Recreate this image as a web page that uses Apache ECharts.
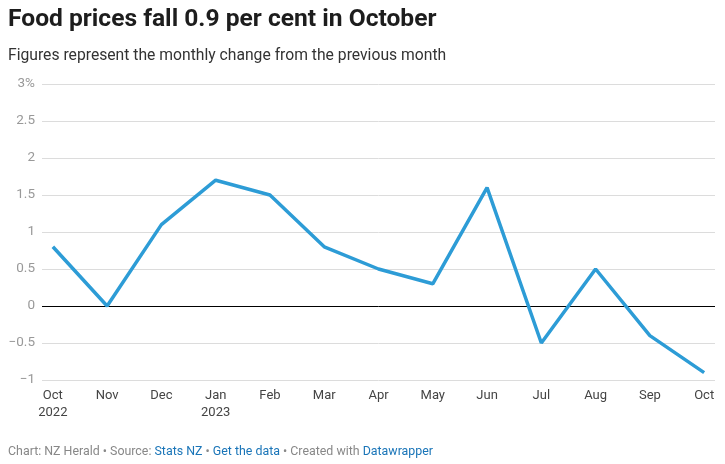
<!DOCTYPE html>
<html>
<head>
<meta charset="utf-8">
<script src="https://cdn.jsdelivr.net/npm/echarts@6/dist/echarts.min.js"></script>
<style>
html,body{margin:0;padding:0;background:#fff;}
#c{width:725px;height:464px;}
</style>
</head>
<body>
<div id="c"></div>
<script>
var categories = ['Oct\n2022','Nov','Dec','Jan\n2023','Feb','Mar','Apr','May','Jun','Jul','Aug','Sep','Oct'];
var values = [0.8, 0, 1.1, 1.7, 1.5, 0.8, 0.5, 0.3, 1.6, -0.5, 0.5, -0.4, -0.9];
var yTicks = [-1, -0.5, 0, 0.5, 1, 1.5, 2, 2.5, 3];

var chart = echarts.init(document.getElementById('c'), null, {renderer:'canvas'});
var font = 'Roboto, "Liberation Sans", sans-serif';
var option = {
  animation: false,
  backgroundColor: '#fff',
  title: [
    {text: 'Food prices fall 0.9 per cent in October', left: 8, top: 7, padding: 0,
     textStyle: {fontFamily: font, fontSize: 24.6, fontWeight: 'bold', color: '#1d1d1d'}},
    {text: 'Figures represent the monthly change from the previous month', left: 8, top: 48, padding: 0,
     textStyle: {fontFamily: font, fontSize: 15.7, fontWeight: 'normal', color: '#333'}}
  ],
  graphic: [{
    type: 'text', left: 8, top: 446,
    style: {
      text: '{g|Chart: NZ Herald • Source: }{b|Stats NZ}{g| • }{b|Get the data}{g| • Created with }{b|Datawrapper}',
      rich: {
        g: {fontFamily: font, fontSize: 12.4, fill: '#888'},
        b: {fontFamily: font, fontSize: 12.4, fill: '#1a75b8'}
      }
    }
  }],
  grid: {left: 42, right: 10, top: 84, bottom: 84, containLabel: false},
  xAxis: {
    type: 'value', min: -0.2, max: 12.2,
    axisLine: {show: false}, axisTick: {show: false}, splitLine: {show: false},
    axisLabel: {
      customValues: categories.map(function(_, i){return i;}),
      formatter: function(v){ return categories[Math.round(v)] || ''; },
      fontFamily: font, fontSize: 13, color: '#444', lineHeight: 17, margin: 7
    }
  },
  yAxis: {
    type: 'value', min: -1, max: 3, interval: 0.5,
    axisLine: {show: false}, axisTick: {show: false},
    splitLine: {show: true, lineStyle: {color: '#dcdcdc', width: 1}},
    axisLabel: {
      fontFamily: font, fontSize: 13.5, color: '#999', margin: 7,
      formatter: function(v){
        var s = String(v).replace('-', '\u2212');
        return v === 3 ? s + '%' : s;
      }
    }
  },
  series: [{
    type: 'line',
    data: values.map(function(v, i){ return [i, v]; }),
    symbol: 'none',
    lineStyle: {color: '#2d9cd6', width: 3.5},
    z: 3,
    markLine: {
      silent: true, symbol: 'none', label: {show: false},
      lineStyle: {color: '#000', width: 1, type: 'solid'},
      data: [{yAxis: 0}],
      z: 2
    }
  }]
};
chart.setOption(option);
</script>
</body>
</html>
